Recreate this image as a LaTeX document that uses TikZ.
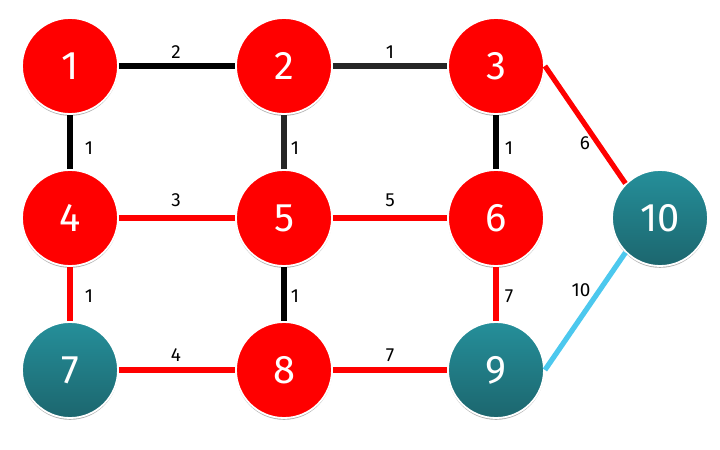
\documentclass[tikz,border=0pt]{standalone}
\usepackage{fontspec}
\setmainfont{Fira Sans}
\usetikzlibrary{shadows}
\definecolor{nred}{HTML}{FF0000}
\definecolor{tealtop}{HTML}{258F9A}
\definecolor{tealbot}{HTML}{1C666E}
\definecolor{cyanedge}{HTML}{4CC8EE}
\definecolor{darkedge}{HTML}{000000}
\definecolor{grayedge}{HTML}{262626}
\begin{document}
\begin{tikzpicture}[x=1bp,y=-1bp,
  vtx/.style={circle, minimum size=96bp, inner sep=0pt, draw=white, line width=1.8bp,
    text=white, font=\fontsize{40}{40}\selectfont,
    drop shadow={shadow xshift=0bp, shadow yshift=-1.8bp, opacity=0.5, fill=black!60}},
  redv/.style={vtx, fill=nred},
  tealv/.style={vtx, top color=tealtop, bottom color=tealbot},
  edge/.style={line width=5.2bp},
  blk/.style={edge, draw=darkedge},
  gry/.style={edge, draw=grayedge},
  rd/.style={edge, draw=nred},
  cy/.style={edge, draw=cyanedge},
  wlab/.style={font=\fontsize{19}{19}\selectfont, text=black, inner sep=0pt}
]
\useasboundingbox (0,0) rectangle (720,450);
\fill[white] (0,0) rectangle (720,450);

\node[redv]  (n1)  at (70,66)   {1};
\node[redv]  (n2)  at (284,66)  {2};
\node[redv]  (n3)  at (496,66)  {3};
\node[redv]  (n4)  at (70,218)  {4};
\node[redv]  (n5)  at (284,218) {5};
\node[redv]  (n6)  at (496,218) {6};
\node[tealv] (n7)  at (70,370)  {7};
\node[redv]  (n8)  at (284,370) {8};
\node[tealv] (n9)  at (496,370) {9};
\node[tealv] (n10) at (660,218) {10};

\draw[blk] (n1) -- (n2);
\draw[gry] (n2) -- (n3);
\draw[blk] (n1) -- (n4);
\draw[gry] (n2) -- (n5);
\draw[blk] (n3) -- (n6);
\draw[rd]  (n4) -- (n5);
\draw[rd]  (n5) -- (n6);
\draw[rd]  (n4) -- (n7);
\draw[blk] (n5) -- (n8);
\draw[rd]  (n6) -- (n9);
\draw[rd]  (n7) -- (n8);
\draw[rd]  (n8) -- (n9);
\draw[rd]  (n3.east) -- (n10.north west);
\draw[cy]  (n9.east) -- (n10.south west);

\node[wlab] (l12)  at (176,52)  {2};
\node[wlab] (l23)  at (390,52)  {1};
\node[wlab] (l14)  at (89,148)  {1};
\node[wlab] (l25)  at (295,148) {1};
\node[wlab] (l36)  at (509,148) {1};
\node[wlab] (l310) at (585,143) {6};
\node[wlab] (l45)  at (176,200) {3};
\node[wlab] (l56)  at (390,200) {5};
\node[wlab] (l47)  at (89,296)  {1};
\node[wlab] (l58)  at (295,296) {1};
\node[wlab] (l69)  at (509,296) {7};
\node[wlab] (l910) at (581,290) {10};
\node[wlab] (l78)  at (176,355) {4};
\node[wlab] (l89)  at (390,355) {7};
\end{tikzpicture}
\end{document}
